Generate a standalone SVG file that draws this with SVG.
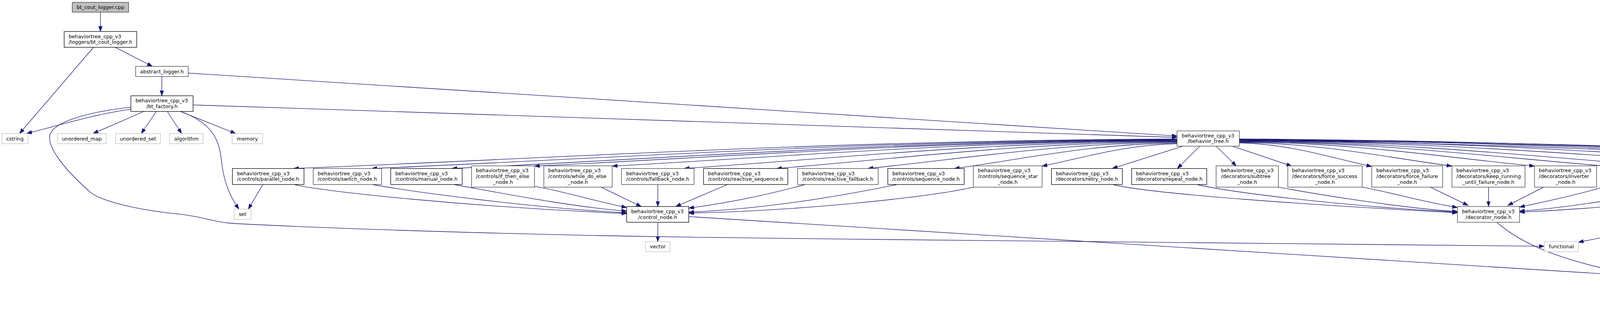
<svg xmlns="http://www.w3.org/2000/svg" width="5490" height="812" viewBox="0 0 5490 812">
<style>
.e{fill:none;stroke:#191970;stroke-width:1.33;marker-end:url(#a)}
rect{stroke-width:1.33;fill:#fff}
.k{stroke:#000}
.g{stroke:#404040}
.x{stroke:#bfbfbf}
.r{stroke:#ff0000}
.root{fill:#bfbfbf;stroke:#404040}
text{font-family:"DejaVu Sans","Liberation Sans",sans-serif;font-size:12.9px;fill:#000}
.m{text-anchor:middle}
</style>
<defs>
<marker id="a" markerWidth="14" markerHeight="10" refX="13.3" refY="4.7" orient="auto" markerUnits="userSpaceOnUse"><path d="M0,0 L13.3,4.7 L0,9.4 z" fill="#191970" stroke="#191970" stroke-width="1"/></marker>
</defs>
<rect x="0" y="0" width="5490" height="812" fill="#fff" stroke="none"/>
<g id="edges">
<path class="e" d="M257.2,31.2 L257.2,80.6"/>
<path class="e" d="M239.3,121.2 L50,342"/>
<path class="e" d="M295,121.2 L390,170"/>
<path class="e" d="M414.3,196 L414.3,245.4"/>
<path class="e" d="M481.7,187.2 L3013.3,348.4"/>
<path class="e" d="M494.3,268.8 L3013.3,352"/>
<path class="e" d="M335,279.8 C240,292 120,330 68.3,341.6"/>
<path class="e" d="M368.3,285.5 L238.3,342"/>
<path class="e" d="M400,285.5 L361.7,342"/>
<path class="e" d="M428.3,285.5 L465,342"/>
<path class="e" d="M461.7,285.5 L603.3,342"/>
<path class="e" d="M463.3,285.5 C548,318 562,360 568,420 C574,470 590,505 611.7,535.6"/>
<path class="e" d="M335,274.6 C250,284 150,305 130,340 C115,370 160,430 233,494 C270,520 370,540 460,548.6 C520,555 550,570 600,572.5 C800,583 1300,602 1840,608.4 C2600,618 3400,628 3953.3,630.8"/>
<path class="e" d="M3013.3,356 C2108.7,359.8 1430.2,405.1 751.7,431.6"/>
<path class="e" d="M3013.3,357 C2188.7,360.7 1570.2,405.5 951.7,431.6"/>
<path class="e" d="M3013.3,358 C2270.7,361.7 1713.7,405.8 1156.7,431.6"/>
<path class="e" d="M3013.3,359 C2355.3,362.3 1861.8,402.2 1368.3,425.4"/>
<path class="e" d="M3013.3,360 C2434.9,363.3 2001.1,402.5 1567.3,425.4"/>
<path class="e" d="M3013.3,361 C2508.7,364.5 2130.2,406.9 1751.7,431.6"/>
<path class="e" d="M3013.3,362.5 C2603.3,366 2295.8,407.4 1988.3,431.6"/>
<path class="e" d="M3013.3,364 C2696.7,367.4 2459.2,407.9 2221.7,431.6"/>
<path class="e" d="M3013.3,366 C2785.3,369.3 2614.3,408.6 2443.3,431.6"/>
<path class="e" d="M3013.3,368 C2875.1,370.9 2771.4,405.3 2667.7,425.4"/>
<path class="e" d="M3028.3,374.4 L2847.3,431.6"/>
<path class="e" d="M3071.7,374.4 L3014,431.6"/>
<path class="e" d="M3113.3,374.4 L3165,425.4"/>
<path class="e" d="M3155,374.4 L3306.7,425.4"/>
<path class="e" d="M3172.7,366 C3308.3,369 3410,405.3 3511.7,426.4"/>
<path class="e" d="M3172.7,364.5 C3390.3,367.5 3553.5,404.1 3716.7,425.4"/>
<path class="e" d="M3172.7,363 C3474.9,366.1 3701.6,403.6 3928.3,425.4"/>
<path class="e" d="M3172.7,362 C3548.3,365.2 3830,403.2 4111.7,425.4"/>
<path class="e" d="M3172.7,361 C3636.3,364.5 3984,406.9 4331.7,431.6"/>
<path class="e" d="M3172.7,360 C3710.7,363.3 4114.2,402.5 4517.7,425.4"/>
<path class="e" d="M3172.7,359 C3900,368 4400,395 4600,410.8 C4695,418 4716,445 4715,529.4"/>
<path class="e" d="M3172.7,358.5 C3804.3,361.9 4278,402.6 4751.7,426.4"/>
<path class="e" d="M3172.7,358 C3900,364 4600,390 4880,412 C4930,416 4955,428 4973.3,439.4"/>
<path class="e" d="M3172.7,357.5 C3800,362 4500,380 4900,405 C5030,413 5075,440 5045,478 C5025,503 5000,518 4975,530.4"/>
<path class="e" d="M3172.7,357 C3946,360.5 4526,402.8 5106,427.4"/>
<path class="e" d="M3172.7,356 C4028.5,359.5 4670.4,401.8 5312.3,426.4"/>
<path class="e" d="M672.7,473 L635.7,535.6"/>
<path class="e" d="M755,473 C820,490 1200,530 1604.3,547"/>
<path class="e" d="M955,473 C1050,490 1350,532 1604.3,545"/>
<path class="e" d="M1163.3,473 C1260,490 1460,530 1604.3,540.8"/>
<path class="e" d="M1368.3,477.4 C1430,487 1530,517 1604.3,531.4"/>
<path class="e" d="M1538.3,479.4 L1641.7,529"/>
<path class="e" d="M1684,473 L1684,529"/>
<path class="e" d="M1861.7,473 L1730,529"/>
<path class="e" d="M2060,473 C1990,492 1880,518 1763.3,533"/>
<path class="e" d="M2295,473 C2150,503 1950,536 1763.3,543.4"/>
<path class="e" d="M2491.7,479.4 C2380,505 2050,540 1763.3,546"/>
<path class="e" d="M1684,569.4 L1684,618.8"/>
<path class="e" d="M1763.3,554.8 L4212.3,708.2"/>
<path class="e" d="M2850,473 C2950,497 3350,525 3731,545"/>
<path class="e" d="M3065,473 C3150,492 3420,527 3731,543.4"/>
<path class="e" d="M3272.7,479.4 C3400,503 3610,535 3731,541.8"/>
<path class="e" d="M3488.3,479.4 C3560,493 3660,521 3731,531.4"/>
<path class="e" d="M3661.7,479.4 L3758.3,526.2"/>
<path class="e" d="M3810.7,479.4 L3810.7,529"/>
<path class="e" d="M3951.7,479.4 L3860,526.2"/>
<path class="e" d="M4111.7,477.4 C4050,495 3960,516 3890,530.4"/>
<path class="e" d="M4197.3,479.4 L4197.3,535.6"/>
<path class="e" d="M4328.3,473 C4250,490 4050,530 3890,540.8"/>
<path class="e" d="M4400.7,473 L4400.7,529"/>
<path class="e" d="M4435,473 C4485,495 4550,545 4583.3,618.8"/>
<path class="e" d="M4517.7,479.4 C4400,502 4150,532 3890,543.4"/>
<path class="e" d="M4541.7,479.4 L4451.7,529"/>
<path class="e" d="M4596.7,479.4 L4595,618.8"/>
<path class="e" d="M3831.7,569.4 C3880,610 3960,665 4212.3,709"/>
<path class="e" d="M4304.3,569.4 C4220,585 4120,605 4040.7,620.4"/>
<path class="e" d="M4350,569.4 C4250,600 4180,660 4190,710 C4195,745 4205,765 4218.3,783.6"/>
<path class="e" d="M4401.7,569.4 L4408.3,783.6"/>
<path class="e" d="M4422.7,569.4 L4473.3,618.8"/>
<path class="e" d="M4276,734 L4238.3,783.6"/>
<path class="e" d="M4321,734 L4391.7,783.6"/>
<path class="e" d="M4711.7,569.4 L4711.7,618.8"/>
<path class="e" d="M4662.7,642.2 C4580,655 4460,680 4371.7,696.8"/>
<path class="e" d="M4848.3,569.4 L4750,618.8"/>
<path class="e" d="M4876.7,569.4 L4837.3,618.8"/>
<path class="e" d="M4820,569.4 L4626.7,621.4"/>
<path class="e" d="M4815,567 C4720,585 4600,605 4520,621.4"/>
<path class="e" d="M4893.3,569.4 C4893,610 4880,640 4830,660 C4700,710 4560,765 4441.7,790.4"/>
<path class="e" d="M4855,479.4 L4882.7,529"/>
<path class="e" d="M5110,479.4 C5060,495 5015,515 4974,529"/>
<path class="e" d="M5312.3,477.4 C5200,500 5080,522 4974,536"/>
</g>
<g id="n_bt_cout_logger_cpp"><rect class="root" x="185" y="6" width="144.3" height="25.2"/><text class="m" x="257.2" y="23">bt_cout_logger.cpp</text></g>
<g id="n_bt_cout_logger_h"><rect class="k" x="164.3" y="80.6" width="185.7" height="40.6"/><text x="175.7" y="97.6">behaviortree_cpp_v3</text><text class="m" x="257.2" y="112.2">/loggers/bt_cout_logger.h</text></g>
<g id="n_abstract_logger"><rect class="g" x="347.3" y="170" width="134.4" height="26"/><text class="m" x="414.5" y="187.6">abstract_logger.h</text></g>
<g id="n_bt_factory"><rect class="k" x="335" y="245.4" width="159.3" height="40.1"/><text x="346.7" y="262.2">behaviortree_cpp_v3</text><text class="m" x="414.7" y="276.8">/bt_factory.h</text></g>
<g id="n_cstring"><rect class="x" x="5" y="342" width="66.7" height="26"/><text class="m" x="38.3" y="359.6">cstring</text></g>
<g id="n_unordered_map"><rect class="x" x="147.3" y="342" width="124.4" height="26"/><text class="m" x="209.5" y="359.6">unordered_map</text></g>
<g id="n_unordered_set"><rect class="x" x="295.7" y="342" width="115" height="26"/><text class="m" x="353.2" y="359.6">unordered_set</text></g>
<g id="n_algorithm"><rect class="x" x="434.3" y="342" width="85.7" height="26"/><text class="m" x="477.2" y="359.6">algorithm</text></g>
<g id="n_memory"><rect class="x" x="594.3" y="342" width="78" height="26"/><text class="m" x="633.3" y="359.6">memory</text></g>
<g id="n_set"><rect class="x" x="599.3" y="535.6" width="43.4" height="26"/><text class="m" x="621" y="553.2">set</text></g>
<g id="n_parallel_node"><rect class="k" x="595" y="431.6" width="183.3" height="41"/><text x="606.7" y="448.7">behaviortree_cpp_v3</text><text class="m" x="686.7" y="463.3">/controls/parallel_node.h</text></g>
<g id="n_switch_node"><rect class="g" x="801.7" y="431.6" width="175" height="41"/><text x="813.3" y="448.7">behaviortree_cpp_v3</text><text class="m" x="889.2" y="463.3">/controls/switch_node.h</text></g>
<g id="n_manual_node"><rect class="k" x="1000.3" y="431.6" width="183" height="41"/><text x="1011.7" y="448.7">behaviortree_cpp_v3</text><text class="m" x="1091.8" y="463.3">/controls/manual_node.h</text></g>
<g id="n_if_then_else_node"><rect class="g" x="1207.3" y="424.8" width="161" height="54.6"/><text x="1218.3" y="441.4">behaviortree_cpp_v3</text><text x="1218.3" y="456.1">/controls/if_then_else</text><text class="m" x="1287.8" y="470.8">_node.h</text></g>
<g id="n_while_do_else_node"><rect class="g" x="1392.3" y="424.8" width="175" height="54.6"/><text x="1403.3" y="441.4">behaviortree_cpp_v3</text><text x="1403.3" y="456.1">/controls/while_do_else</text><text class="m" x="1479.8" y="470.8">_node.h</text></g>
<g id="n_fallback_node"><rect class="g" x="1591" y="431.6" width="185.7" height="41"/><text x="1602.7" y="448.7">behaviortree_cpp_v3</text><text class="m" x="1683.9" y="463.3">/controls/fallback_node.h</text></g>
<g id="n_control_node"><rect class="k" x="1604.3" y="529" width="159" height="40.4"/><text x="1615.7" y="545.9">behaviortree_cpp_v3</text><text class="m" x="1683.8" y="560.5">/control_node.h</text></g>
<g id="n_vector"><rect class="x" x="1652.7" y="618.8" width="62.3" height="26"/><text class="m" x="1683.9" y="636.4">vector</text></g>
<g id="n_reactive_sequence"><rect class="k" x="1801" y="431.6" width="215.7" height="41"/><text x="1812.3" y="448.7">behaviortree_cpp_v3</text><text class="m" x="1908.9" y="463.3">/controls/reactive_sequence.h</text></g>
<g id="n_reactive_fallback"><rect class="g" x="2041.7" y="431.6" width="206.6" height="41"/><text x="2053.3" y="448.7">behaviortree_cpp_v3</text><text class="m" x="2145" y="463.3">/controls/reactive_fallback.h</text></g>
<g id="n_sequence_node"><rect class="k" x="2272.7" y="431.6" width="195.6" height="41"/><text x="2284.3" y="448.7">behaviortree_cpp_v3</text><text class="m" x="2370.5" y="463.3">/controls/sequence_node.h</text></g>
<g id="n_sequence_star_node"><rect class="g" x="2491.7" y="424.8" width="176" height="54.6"/><text x="2503.3" y="441.4">behaviortree_cpp_v3</text><text x="2503.3" y="456.1">/controls/sequence_star</text><text class="m" x="2579.7" y="470.8">_node.h</text></g>
<g id="n_retry_node"><rect class="k" x="2691.7" y="431.6" width="181.6" height="41"/><text x="2703.3" y="448.7">behaviortree_cpp_v3</text><text class="m" x="2782.5" y="463.3">/decorators/retry_node.h</text></g>
<g id="n_repeat_node"><rect class="k" x="2897" y="431.6" width="192.3" height="41"/><text x="2908.3" y="448.7">behaviortree_cpp_v3</text><text class="m" x="2993.2" y="463.3">/decorators/repeat_node.h</text></g>
<g id="n_behavior_tree"><rect class="g" x="3013.3" y="335.4" width="159.4" height="39"/><text x="3025.3" y="351.6">behaviortree_cpp_v3</text><text class="m" x="3093" y="366.2">/behavior_tree.h</text></g>
<g id="n_subtree_node"><rect class="g" x="3113.3" y="424.8" width="159.4" height="54.6"/><text x="3125.7" y="441.4">behaviortree_cpp_v3</text><text x="3125.7" y="456.1">/decorators/subtree</text><text class="m" x="3193" y="470.8">_node.h</text></g>
<g id="n_force_success_node"><rect class="g" x="3296.7" y="424.8" width="190.6" height="54.6"/><text x="3307.3" y="441.4">behaviortree_cpp_v3</text><text x="3307.3" y="456.1">/decorators/force_success</text><text class="m" x="3392" y="470.8">_node.h</text></g>
<g id="n_force_failure_node"><rect class="g" x="3511.7" y="424.8" width="181.6" height="54.6"/><text x="3523.3" y="441.4">behaviortree_cpp_v3</text><text x="3523.3" y="456.1">/decorators/force_failure</text><text class="m" x="3602.5" y="470.8">_node.h</text></g>
<g id="n_keep_running_until_failure_node"><rect class="g" x="3717" y="424.8" width="187" height="54.6"/><text x="3728.3" y="441.4">behaviortree_cpp_v3</text><text x="3728.3" y="456.1">/decorators/keep_running</text><text class="m" x="3810.5" y="470.8">_until_failure_node.h</text></g>
<g id="n_decorator_node"><rect class="g" x="3731" y="529" width="159" height="40.4"/><text x="3742.7" y="545.9">behaviortree_cpp_v3</text><text class="m" x="3810.5" y="560.5">/decorator_node.h</text></g>
<g id="n_inverter_node"><rect class="g" x="3928.3" y="424.8" width="159" height="54.6"/><text x="3939.3" y="441.4">behaviortree_cpp_v3</text><text x="3939.3" y="456.1">/decorators/inverter</text><text class="m" x="4007.8" y="470.8">_node.h</text></g>
<g id="n_functional"><rect class="x" x="3953.3" y="618.8" width="87.4" height="26"/><text class="m" x="3997" y="636.4">functional</text></g>
<g id="n_blackboard_precondition"><rect class="k" x="4111.7" y="424.8" width="171" height="54.6"/><text x="4123.3" y="441.4">behaviortree_cpp_v3</text><text x="4123.3" y="456.1">/decorators/blackboard</text><text class="m" x="4197.2" y="470.8">_precondition.h</text></g>
<g id="n_type_traits"><rect class="x" x="4151" y="535.6" width="92.3" height="26"/><text class="m" x="4197.2" y="553.2">type_traits</text></g>
<g id="n_delay_node"><rect class="k" x="4306.3" y="431.6" width="187" height="41"/><text x="4317.7" y="448.7">behaviortree_cpp_v3</text><text class="m" x="4399.8" y="463.3">/decorators/delay_node.h</text></g>
<g id="n_timer_queue"><rect class="r" x="4304.3" y="529" width="194" height="40.4"/><text x="4315.7" y="545.9">behaviortree_cpp_v3</text><text class="m" x="4401.3" y="560.5">/decorators/timer_queue.h</text></g>
<g id="n_thread"><rect class="x" x="4455.7" y="618.8" width="64.3" height="26"/><text class="m" x="4487.9" y="636.4">thread</text></g>
<g id="n_atomic"><rect class="x" x="4561" y="618.8" width="66.7" height="26"/><text class="m" x="4594.4" y="636.4">atomic</text></g>
<g id="n_tree_node"><rect class="r" x="4212.3" y="694" width="159" height="40"/><text x="4223.3" y="710.7">behaviortree_cpp_v3</text><text class="m" x="4291.8" y="725.3">/tree_node.h</text></g>
<g id="n_condition_variable"><rect class="x" x="4156.3" y="783.6" width="143" height="25"/><text class="m" x="4227.8" y="800.7">condition_variable</text></g>
<g id="n_mutex"><rect class="x" x="4377" y="783.6" width="64.3" height="25"/><text class="m" x="4409.2" y="800.7">mutex</text></g>
<g id="n_timeout_node"><rect class="g" x="4517.7" y="424.8" width="159" height="54.6"/><text x="4529.3" y="441.4">behaviortree_cpp_v3</text><text x="4529.3" y="456.1">/decorators/timeout</text><text class="m" x="4597.2" y="470.8">_node.h</text></g>
<g id="n_set_blackboard_node"><rect class="g" x="4751.7" y="424.8" width="176.6" height="54.6"/><text x="4763.3" y="441.4">behaviortree_cpp_v3</text><text x="4763.3" y="456.1">/actions/set_blackboard</text><text class="m" x="4840" y="470.8">_node.h</text></g>
<g id="n_iostream"><rect class="x" x="4951.7" y="439.4" width="80.6" height="26"/><text class="m" x="4992" y="457">iostream</text></g>
<g id="n_condition_node"><rect class="k" x="4632.3" y="529" width="158.7" height="40.4"/><text x="4643.3" y="545.9">behaviortree_cpp_v3</text><text class="m" x="4711.7" y="560.5">/condition_node.h</text></g>
<g id="n_action_node"><rect class="k" x="4815" y="529" width="159" height="40.4"/><text x="4826.7" y="545.9">behaviortree_cpp_v3</text><text class="m" x="4894.5" y="560.5">/action_node.h</text></g>
<g id="n_leaf_node"><rect class="k" x="4662.7" y="618.8" width="98.6" height="26"/><text class="m" x="4712" y="636.4">leaf_node.h</text></g>
<g id="n_future"><rect class="x" x="4795.7" y="618.8" width="61.6" height="26"/><text class="m" x="4826.5" y="636.4">future</text></g>
<g id="n_always_success_node"><rect class="g" x="5106" y="424.8" width="182.3" height="54.6"/><text x="5117.7" y="441.4">behaviortree_cpp_v3</text><text x="5117.7" y="456.1">/actions/always_success</text><text class="m" x="5197.2" y="470.8">_node.h</text></g>
<g id="n_always_failure_node"><rect class="g" x="5312.3" y="424.8" width="172.7" height="54.6"/><text x="5323.3" y="441.4">behaviortree_cpp_v3</text><text x="5323.3" y="456.1">/actions/always_failure</text><text class="m" x="5398.7" y="470.8">_node.h</text></g>
</svg>
